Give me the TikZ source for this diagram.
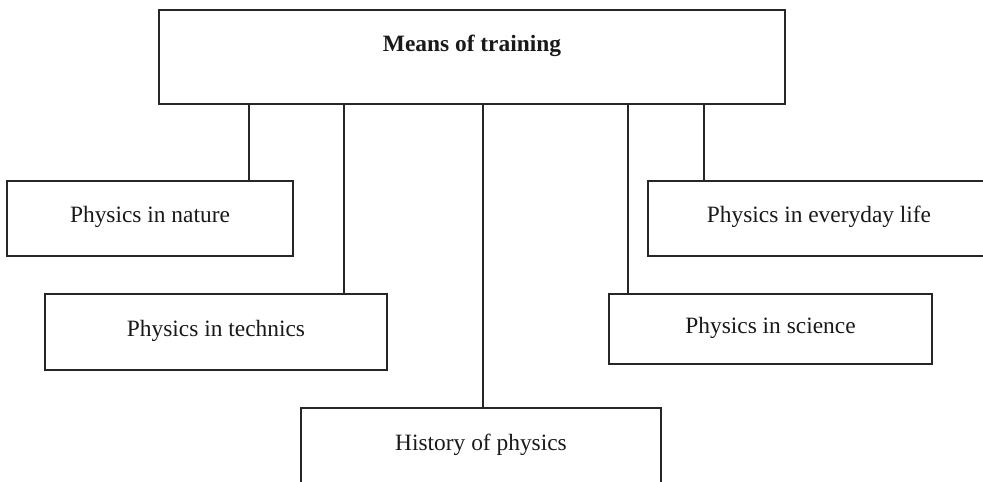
\documentclass[tikz,border=0pt]{standalone}
\usepackage{fontspec}
\setmainfont{Liberation Serif}
\usepackage{tikz}
\usetikzlibrary{positioning}

\begin{document}
\begin{tikzpicture}[x=0.5pt,y=-0.5pt]
\useasboundingbox (0,0) rectangle (983,481);
\begin{scope}[every node/.style={rectangle,draw=black!85,line width=0.8pt,inner sep=0pt,
              text=black!90,font=\fontsize{11.7}{14}\selectfont,text height=8pt,text depth=4pt}]
    \node[minimum width=313pt,minimum height=47pt,font=\fontsize{11.7}{14}\selectfont\bfseries,
          text depth=13pt] (Means) at (472,57) {Means of training};

    \node[minimum width=143pt,minimum height=37.5pt] (Nature) at (150,218.5) {Physics in nature};
    \node[minimum width=171pt,minimum height=38pt] (Technics) at (216,332) {Physics in technics};

    \node[minimum width=180pt,minimum height=38pt] (History) at (481,446) {History of physics};

    \node[minimum width=161.5pt,minimum height=35pt] (Science) at (770.5,329) {Physics in science};
    \node[minimum width=171pt,minimum height=37.5pt] (Everyday) at (819,218.5) {Physics in everyday life};
\end{scope}

\coordinate (L1) at (249,104);
\coordinate (L2) at (344,104);
\coordinate (L3) at (483,104);
\coordinate (L4) at (628,104);
\coordinate (L5) at (704,104);

\begin{scope}[every path/.style={draw=black!85,line width=0.8pt}]
     \draw (L1) -- (L1 |- Nature.north);
     \draw (L2) -- (L2 |- Technics.north);
     \draw (L3) -- (L3 |- History.north);
     \draw (L4) -- (L4 |- Science.north);
     \draw (L5) -- (L5 |- Everyday.north);
\end{scope}
\end{tikzpicture}
\end{document}
